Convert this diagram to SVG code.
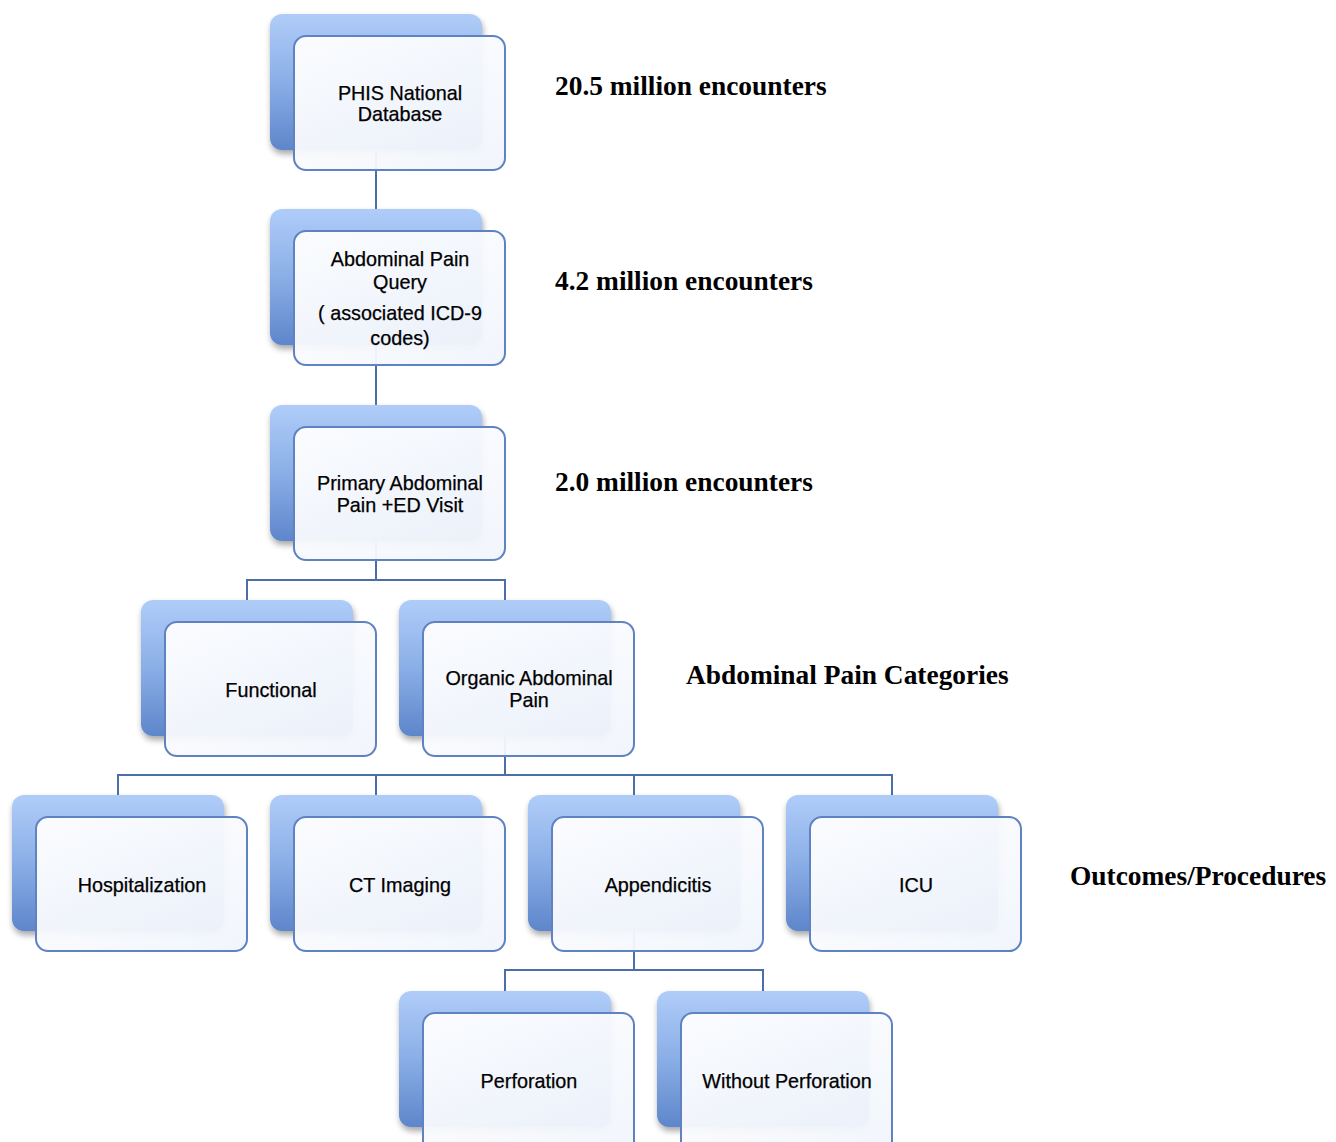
<svg xmlns="http://www.w3.org/2000/svg" width="1336" height="1142" viewBox="0 0 1336 1142">
<defs>
<linearGradient id="bg" x1="0" y1="0" x2="0" y2="1">
<stop offset="0" stop-color="#b0cdf9"/>
<stop offset="0.5" stop-color="#8aaee6"/>
<stop offset="1" stop-color="#5e86cb"/>
</linearGradient>
<linearGradient id="fg" x1="0" y1="0" x2="1" y2="1">
<stop offset="0" stop-color="#ffffff"/>
<stop offset="1" stop-color="#f1f5fc"/>
</linearGradient>
<filter id="sh" x="-10%" y="-10%" width="125%" height="130%">
<feGaussianBlur in="SourceAlpha" stdDeviation="3"/>
<feOffset dx="1" dy="4"/>
<feComponentTransfer><feFuncA type="linear" slope="0.35"/></feComponentTransfer>
<feMerge><feMergeNode/><feMergeNode in="SourceGraphic"/></feMerge>
</filter>
</defs>
<style>
.back{fill:url(#bg);filter:url(#sh)}
.front{fill:url(#fg);fill-opacity:0.95;stroke:#5f82c2;stroke-width:2}
.t{font-family:"Liberation Sans",Arial,sans-serif;font-size:19.8px;fill:#000;text-anchor:middle;stroke:#000;stroke-width:0.25}
.lab{font-family:"Liberation Serif","Times New Roman",serif;font-size:27.4px;font-weight:bold;fill:#000}
.c{fill:none;stroke:#4b6ea8;stroke-width:2}
</style>
<rect width="1336" height="1142" fill="#ffffff"/>

<g id="backs">
<rect class="back" x="270" y="14" width="212" height="136" rx="12"/>
<rect class="back" x="270" y="209" width="212" height="136" rx="12"/>
<rect class="back" x="270" y="405" width="212" height="136" rx="12"/>
<rect class="back" x="141" y="600" width="212" height="136" rx="12"/>
<rect class="back" x="399" y="600" width="212" height="136" rx="12"/>
<rect class="back" x="12" y="795" width="212" height="136" rx="12"/>
<rect class="back" x="270" y="795" width="212" height="136" rx="12"/>
<rect class="back" x="528" y="795" width="212" height="136" rx="12"/>
<rect class="back" x="786" y="795" width="212" height="136" rx="12"/>
<rect class="back" x="399" y="991" width="212" height="136" rx="12"/>
<rect class="back" x="657" y="991" width="212" height="136" rx="12"/>
</g>

<g id="connectors">
<path class="c" d="M376 150 V209"/>
<path class="c" d="M376 345 V405"/>
<path class="c" d="M376 540 V580 M247 600 V580 H505 V600"/>
<path class="c" d="M505 736 V775 M118 795 V775 H892 V795 M376 775 V795 M634 775 V795"/>
<path class="c" d="M634 931 V970 M505 991 V970 H763 V991"/>
</g>

<g id="n1"><rect class="front" x="294" y="36" width="211" height="134" rx="12"/>
<text class="t" x="400" y="100">PHIS National</text><text class="t" x="400" y="121">Database</text></g>
<g id="n2"><rect class="front" x="294" y="231" width="211" height="134" rx="12"/>
<text class="t" x="400" y="266">Abdominal Pain</text><text class="t" x="400" y="289">Query</text>
<text class="t" x="400" y="320">( associated ICD-9</text><text class="t" x="400" y="345">codes)</text></g>
<g id="n3"><rect class="front" x="294" y="427" width="211" height="133" rx="12"/>
<text class="t" x="400" y="490">Primary Abdominal</text><text class="t" x="400" y="512">Pain +ED Visit</text></g>
<g id="n4"><rect class="front" x="165" y="622" width="211" height="134" rx="12"/>
<text class="t" x="271" y="697">Functional</text></g>
<g id="n5"><rect class="front" x="423" y="622" width="211" height="134" rx="12"/>
<text class="t" x="529" y="685">Organic Abdominal</text><text class="t" x="529" y="707">Pain</text></g>
<g id="n6"><rect class="front" x="36" y="817" width="211" height="134" rx="12"/>
<text class="t" x="142" y="892">Hospitalization</text></g>
<g id="n7"><rect class="front" x="294" y="817" width="211" height="134" rx="12"/>
<text class="t" x="400" y="892">CT Imaging</text></g>
<g id="n8"><rect class="front" x="552" y="817" width="211" height="134" rx="12"/>
<text class="t" x="658" y="892">Appendicitis</text></g>
<g id="n9"><rect class="front" x="810" y="817" width="211" height="134" rx="12"/>
<text class="t" x="916" y="892">ICU</text></g>
<g id="n10"><rect class="front" x="423" y="1013" width="211" height="140" rx="12"/>
<text class="t" x="529" y="1088">Perforation</text></g>
<g id="n11"><rect class="front" x="681" y="1013" width="211" height="140" rx="12"/>
<text class="t" x="787" y="1088">Without Perforation</text></g>

<g id="labels">
<text class="lab" x="555" y="95">20.5 million encounters</text>
<text class="lab" x="555" y="290">4.2 million encounters</text>
<text class="lab" x="555" y="491">2.0 million encounters</text>
<text class="lab" x="686" y="684">Abdominal Pain Categories</text>
<text class="lab" x="1070" y="885">Outcomes/Procedures</text>
</g>
</svg>
